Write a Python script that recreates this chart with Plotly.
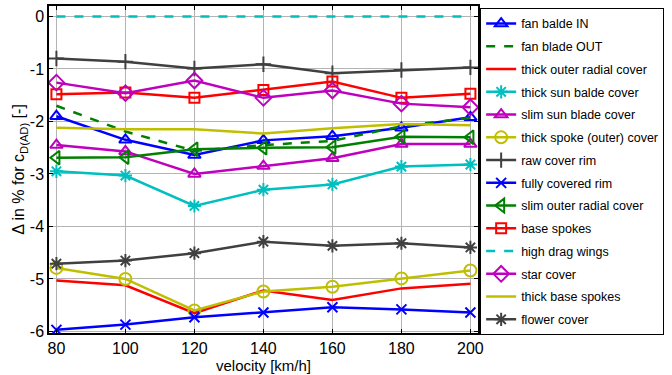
import plotly.graph_objects as go

velocity = [80, 100, 120, 140, 160, 180, 200]

names = [
    "fan balde IN", "fan blade OUT", "thick outer radial cover", "thick sun balde cover",
    "slim sun blade cover", "thick spoke (outer) cover", "raw cover rim", "fully covered rim",
    "slim outer radial cover", "base spokes", "high drag wings", "star cover",
    "thick base spokes", "flower cover",
]

fan_balde_in = [-1.90, -2.35, -2.64, -2.36, -2.28, -2.12, -1.92]
fan_blade_out = [-1.70, -2.19, -2.56, -2.45, -2.37, -2.09, -1.93]
thick_outer_radial = [-5.03, -5.12, -5.65, -5.22, -5.40, -5.18, -5.09]
thick_sun_balde = [-2.95, -3.03, -3.61, -3.30, -3.20, -2.86, -2.82]
slim_sun_blade = [-2.45, -2.57, -3.00, -2.85, -2.70, -2.43, -2.43]
thick_spoke_outer = [-4.79, -5.00, -5.60, -5.24, -5.15, -4.99, -4.84]
raw_cover_rim = [-0.80, -0.86, -0.99, -0.91, -1.08, -1.02, -0.97]
fully_covered_rim = [-5.97, -5.87, -5.73, -5.64, -5.54, -5.58, -5.64]
slim_outer_radial = [-2.69, -2.68, -2.53, -2.50, -2.49, -2.29, -2.30]
base_spokes = [-1.48, -1.45, -1.55, -1.40, -1.24, -1.55, -1.47]
high_drag_wings = [0, 0, 0, 0, 0, 0, 0]
star_cover = [-1.26, -1.46, -1.22, -1.55, -1.41, -1.66, -1.73]
thick_base_spokes = [-2.12, -2.15, -2.15, -2.23, -2.13, -2.05, -2.07]
flower_cover = [-4.71, -4.65, -4.51, -4.29, -4.37, -4.32, -4.40]

series = [fan_balde_in, fan_blade_out, thick_outer_radial, thick_sun_balde, slim_sun_blade,
          thick_spoke_outer, raw_cover_rim, fully_covered_rim, slim_outer_radial, base_spokes,
          high_drag_wings, star_cover, thick_base_spokes, flower_cover]

x_ticks = [80, 100, 120, 140, 160, 180, 200]
y_ticks = [0, -1, -2, -3, -4, -5, -6]
y_ticktext = ["0", "-1", "-2", "-3", "-4", "-5", "-6"]

BLUE = "#0000ff"
GREEN = "#008000"
RED = "#ff0000"
CYAN = "#00bfbf"
MAG = "#bf00bf"
OLIVE = "#bfbf00"
GRAY = "#404040"

styles = [
    (BLUE, "solid", "triangle-up-open", 11),
    (GREEN, "dash", None, 0),
    (RED, "solid", None, 0),
    (CYAN, "solid", "asterisk-open", 11),
    (MAG, "solid", "triangle-up-open", 11),
    (OLIVE, "solid", "circle-open", 12),
    (GRAY, "solid", "cross-thin-open", 11),
    (BLUE, "solid", "x-thin-open", 10),
    (GREEN, "solid", "triangle-left-open", 12),
    (RED, "solid", "square-open", 10),
    (CYAN, "dash", None, 0),
    (MAG, "solid", "diamond-open", 12),
    (OLIVE, "solid", None, 0),
    (GRAY, "solid", "asterisk-open", 11),
]

FONT = "Liberation Sans, Arial"

fig = go.Figure()
for i, (name, ys, (col, dash, sym, sz)) in enumerate(zip(names, series, styles)):
    mode = "lines+markers" if sym else "lines"
    kw = {}
    if sym:
        kw["marker"] = dict(symbol=sym, size=sz, color=col, line=dict(color=col, width=2))
    fig.add_trace(go.Scatter(
        x=velocity, y=ys, name=name, mode=mode,
        line=dict(color=col, width=2.5, dash=dash),
        legendgroup="g%d" % i, **kw,
    ))

axis_common = dict(
    showline=True, linecolor="black", linewidth=1.5, mirror="allticks",
    ticks="inside", ticklen=4, tickcolor="black",
    showgrid=True, gridcolor="#b4b4b4", gridwidth=1, zeroline=False,
    tickfont=dict(family=FONT, size=16, color="black"),
)

fig.update_xaxes(
    range=[77.85, 202.2], tickvals=x_ticks,
    title=dict(text="velocity [km/h]", font=dict(family=FONT, size=15, color="black"), standoff=0),
    **axis_common,
)
fig.update_yaxes(
    range=[-6.03, 0.2], tickvals=y_ticks, ticktext=y_ticktext,
    title=dict(text="\u0394 in % for c<sub>D(AD)</sub> [-]", font=dict(family=FONT, size=16, color="black"), standoff=0),
    **axis_common,
)

fig.update_layout(
    width=672, height=375,
    margin=dict(l=49, r=194, t=4, b=42),
    paper_bgcolor="white", plot_bgcolor="white",
    showlegend=True,
    legend=dict(
        x=1.005, y=0.994, xanchor="left", yanchor="top",
        bordercolor="black", borderwidth=1, bgcolor="white",
        font=dict(family=FONT, size=12.5, color="black"),
        tracegroupgap=3.5, itemwidth=30,
    ),
)

fig.write_html(
    "out.html",
    config={"displayModeBar": False},
    post_script="document.body.style.margin='0';document.body.style.padding='0';document.body.style.overflow='hidden';",
)
